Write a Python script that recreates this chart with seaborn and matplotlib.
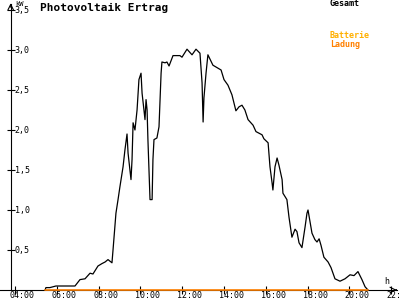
import matplotlib
matplotlib.use('Agg')
import matplotlib.pyplot as plt
import seaborn as sns

# Gesamt-Leistung (kW) ueber Uhrzeit (Stunden, dezimal)
hours = [5.44, 5.48, 5.67, 5.96, 6.87, 7.11, 7.35, 7.59, 7.73, 7.97,
         8.16, 8.31, 8.45, 8.64, 8.69, 8.83, 8.93, 9.02, 9.17, 9.26,
         9.36, 9.41, 9.55, 9.60, 9.65, 9.74, 9.84, 9.89, 9.93, 10.03,
         10.08, 10.17, 10.22, 10.27, 10.32, 10.36, 10.46, 10.56, 10.60, 10.65,
         10.79, 10.89, 10.99, 11.03, 11.18, 11.27, 11.37, 11.56, 11.89, 11.99,
         12.23, 12.47, 12.66, 12.85, 12.95, 13.00, 13.04, 13.14, 13.23, 13.47,
         13.86, 14.00, 14.19, 14.38, 14.57, 14.72, 14.86, 15.00, 15.15, 15.39,
         15.53, 15.82, 15.91, 16.11, 16.20, 16.30, 16.34, 16.44, 16.54, 16.63,
         16.78, 16.82, 17.01, 17.11, 17.25, 17.40, 17.49, 17.59, 17.73, 17.88,
         17.97, 18.02, 18.21, 18.35, 18.45, 18.55, 18.64, 18.78, 18.98, 19.12,
         19.31, 19.55, 19.79, 20.03, 20.22, 20.41, 20.60, 20.75, 20.89]
gesamt_kw = [0.00, 0.03, 0.03, 0.05, 0.05, 0.13, 0.14, 0.21, 0.20, 0.30,
             0.33, 0.35, 0.38, 0.34, 0.50, 0.96, 1.13, 1.29, 1.54, 1.75,
             1.95, 1.71, 1.38, 1.63, 2.09, 2.00, 2.25, 2.46, 2.63, 2.71,
             2.46, 2.25, 2.13, 2.38, 2.25, 1.88, 1.13, 1.13, 1.63, 1.88,
             1.90, 2.04, 2.71, 2.85, 2.84, 2.85, 2.80, 2.93, 2.93, 2.91,
             3.01, 2.94, 3.01, 2.96, 2.59, 2.10, 2.40, 2.71, 2.94, 2.81,
             2.75, 2.63, 2.56, 2.44, 2.24, 2.29, 2.31, 2.25, 2.13, 2.06,
             1.98, 1.94, 1.89, 1.84, 1.54, 1.34, 1.25, 1.54, 1.65, 1.56,
             1.38, 1.21, 1.13, 0.91, 0.66, 0.76, 0.73, 0.59, 0.53, 0.79,
             0.96, 1.00, 0.71, 0.63, 0.60, 0.64, 0.56, 0.41, 0.35, 0.28,
             0.14, 0.11, 0.14, 0.19, 0.18, 0.23, 0.13, 0.04, 0.00]

# Batterie-Ladung: die ganze Zeit 0
ladung_hours = [5.44, 20.89]
ladung_kw = [0.0, 0.0]

xtick_pos = [4, 6, 8, 10, 12, 14, 16, 18, 20, 22]
xtick_labels = ['04:00', '06:00', '08:00', '10:00', '12:00',
                '14:00', '16:00', '18:00', '20:00', '22:00']
ytick_pos = [0.5, 1.0, 1.5, 2.0, 2.5, 3.0, 3.5]
ytick_labels = ['0,5', '1,0', '1,5', '2,0', '2,5', '3,0', '3,5']

sns.set_style('white')
plt.rcParams['font.family'] = ['DejaVu Sans Mono']
plt.rcParams['text.color'] = 'black'

fig = plt.figure(figsize=(4, 3), dpi=100)
ax = fig.add_axes([0, 0, 1, 1])

px_h = 20.9   # pixel pro Stunde
px_kw = 80.0  # pixel pro kW
ax.set_xlim(4 - 15 / px_h, 4 + 385 / px_h)
ax.set_ylim(-10 / px_kw, 290 / px_kw)
y_axis_x = 4 - 4.3 / px_h

sns.lineplot(x=hours, y=gesamt_kw, color='black', linewidth=0.9,
             estimator=None, ax=ax)
sns.lineplot(x=ladung_hours, y=ladung_kw, color='#ff8000', linewidth=1.2,
             estimator=None, ax=ax)

# Achsen
for s in ['top', 'right']:
    ax.spines[s].set_visible(False)
ax.spines['bottom'].set_position(('data', 0))
ax.spines['left'].set_position(('data', y_axis_x))
ax.spines['bottom'].set_bounds(ax.get_xlim()[0], 22.3)
ax.spines['left'].set_bounds(0, 3.58)
for s in ['bottom', 'left']:
    ax.spines[s].set_color('black')
    ax.spines[s].set_linewidth(0.8)
    ax.spines[s].set_zorder(1)

ax.annotate('', xy=(22.4, 0), xytext=(22.1, 0),
            arrowprops=dict(arrowstyle='->', color='black', lw=0.8))
ax.annotate('', xy=(y_axis_x, 3.62), xytext=(y_axis_x, 3.5),
            arrowprops=dict(arrowstyle='->', color='black', lw=0.8))

ax.set_xticks(xtick_pos)
ax.set_yticks(ytick_pos)
ax.tick_params(axis='both', direction='inout', length=6, width=0.8,
               color='black', labelbottom=False, labelleft=False)
ax.tick_params(axis='x', bottom=True)
ax.tick_params(axis='y', left=True)
ax.set_xlabel('')
ax.set_ylabel('')
ax.grid(False)

for t, lab in zip(xtick_pos, xtick_labels):
    ax.annotate(lab, xy=(t, 0), xytext=(-5, -6), textcoords='offset pixels',
                ha='left', va='center', fontsize=6, color='black')
for v, lab in zip(ytick_pos, ytick_labels):
    off = 1 if v == 3.5 else -1
    ax.annotate(lab, xy=(y_axis_x, v), xytext=(4, off - 2 if v == 3.5 else off),
                textcoords='offset pixels',
                ha='left', va='center', fontsize=6, color='black')

fig.text(15 / 400, 1 - 0.5 / 300, 'kW', fontsize=5, ha='left', va='top',
         color='black')
fig.text(387 / 400, 1 - 282 / 300, 'h', fontsize=6, ha='center', va='center',
         color='black')
fig.text(40 / 400, 1 - 8 / 300, 'Photovoltaik Ertrag', fontsize=8,
         fontweight='bold', ha='left', va='center', color='black')

fig.text(330 / 400, 1 - 4 / 300, 'Gesamt', fontsize=6, fontweight='bold',
         color='black', ha='left', va='center')
fig.text(330 / 400, 1 - 36 / 300, 'Batterie', fontsize=6, fontweight='bold',
         color='#ffb000', ha='left', va='center')
fig.text(330 / 400, 1 - 44 / 300, 'Ladung', fontsize=6, fontweight='bold',
         color='#ff8000', ha='left', va='center')

fig.savefig('out.png', dpi=100, facecolor='white')
